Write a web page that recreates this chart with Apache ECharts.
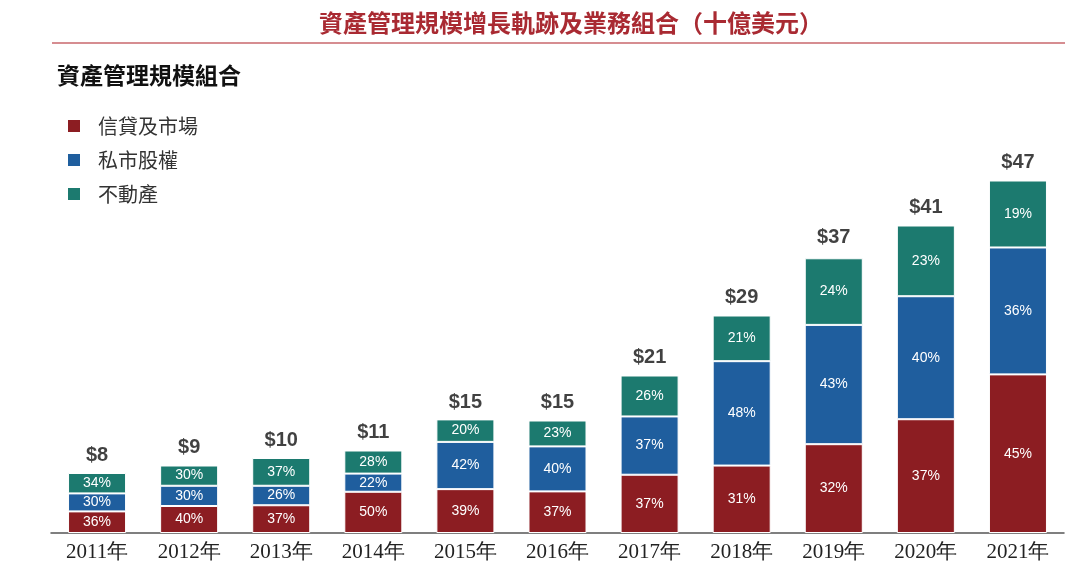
<!DOCTYPE html>
<html>
<head>
<meta charset="utf-8">
<script src="https://cdn.jsdelivr.net/npm/echarts@6/dist/echarts.min.js"></script>
<style>
html, body { margin: 0; padding: 0; background: #fff; }
#chart { width: 1080px; height: 577px; }
</style>
</head>
<body>
<div id="chart"></div>
<script>
var years = ['2011年','2012年','2013年','2014年','2015年','2016年','2017年','2018年','2019年','2020年','2021年'];
var totals = [8, 9, 10, 11, 15, 15, 21, 29, 37, 41, 47];
var creditPct = [36, 40, 37, 50, 39, 37, 37, 31, 32, 37, 45];
var privatePct = [30, 30, 26, 22, 42, 40, 37, 48, 43, 40, 36];
var realEstatePct = [34, 30, 37, 28, 20, 23, 26, 21, 24, 23, 19];
var seriesNames = ['信貸及市場', '私市股權', '不動產'];
var colors = ['#8c1d22', '#1f5e9e', '#1c7a6f'];

var chart = echarts.init(document.getElementById('chart'));

// segment value = total * share, label shows the share
function segment(pct) {
    return pct.map(function (p, i) {
        return { value: totals[i] * p / 100, pct: p };
    });
}

function barSeries(name, pct, color) {
    return {
        name: name,
        type: 'bar',
        stack: 'aum',
        barWidth: '63%',
        data: segment(pct),
        itemStyle: { color: color, borderColor: '#fff', borderWidth: 1 },
        label: {
            show: true,
            position: 'inside',
            color: '#fff',
            fontSize: 14,
            fontFamily: 'Liberation Sans, Arial, sans-serif',
            formatter: function (p) { return p.data.pct + '%'; }
        }
    };
}

var option = {
    animation: false,
    color: colors,
    title: {
        text: '資產管理規模增長軌跡及業務組合（十億美元）',
        left: 314,
        top: 6,
        textStyle: {
            color: '#a92a32',
            fontSize: 24,
            fontWeight: 'bold',
            fontFamily: 'Noto Sans CJK TC, sans-serif'
        }
    },
    graphic: [
        {
            type: 'line',
            shape: { x1: 52, y1: 43, x2: 1065, y2: 43 },
            style: { stroke: '#c9676d', lineWidth: 1.5 }
        },
        {
            type: 'text',
            left: 57,
            top: 64,
            style: {
                text: '資產管理規模組合',
                fill: '#111',
                font: 'bold 23px "Noto Sans CJK TC", sans-serif'
            }
        }
    ],
    legend: {
        data: seriesNames,
        orient: 'vertical',
        left: 66,
        top: 116,
        padding: 0,
        itemGap: 14,
        itemWidth: 14,
        itemHeight: 14,
        icon: 'rect',
        textStyle: {
            color: '#333',
            fontSize: 20,
            fontFamily: 'Noto Sans CJK TC, sans-serif',
            padding: [0, 0, 0, 12]
        }
    },
    grid: { left: 51, right: 16, top: 158, bottom: 44 },
    xAxis: {
        type: 'category',
        data: years,
        axisTick: { show: false },
        axisLine: { lineStyle: { color: '#555', width: 1.5 } },
        axisLabel: {
            color: '#222',
            fontSize: 21,
            margin: 9,
            fontFamily: 'Liberation Serif, Times New Roman, serif'
        }
    },
    yAxis: {
        type: 'value',
        min: 0,
        max: 50,
        show: false,
        splitLine: { show: false }
    },
    series: [
        barSeries(seriesNames[0], creditPct, colors[0]),
        barSeries(seriesNames[1], privatePct, colors[1]),
        barSeries(seriesNames[2], realEstatePct, colors[2]),
        {
            name: 'total',
            type: 'scatter',
            symbolSize: 0,
            data: totals,
            label: {
                show: true,
                position: 'top',
                distance: 8,
                color: '#111',
                fontSize: 20,
                fontWeight: 'bold',
                fontFamily: 'Liberation Sans, Arial, sans-serif',
                formatter: function (p) { return '$' + p.value; }
            }
        }
    ]
};

chart.setOption(option);
</script>
</body>
</html>
